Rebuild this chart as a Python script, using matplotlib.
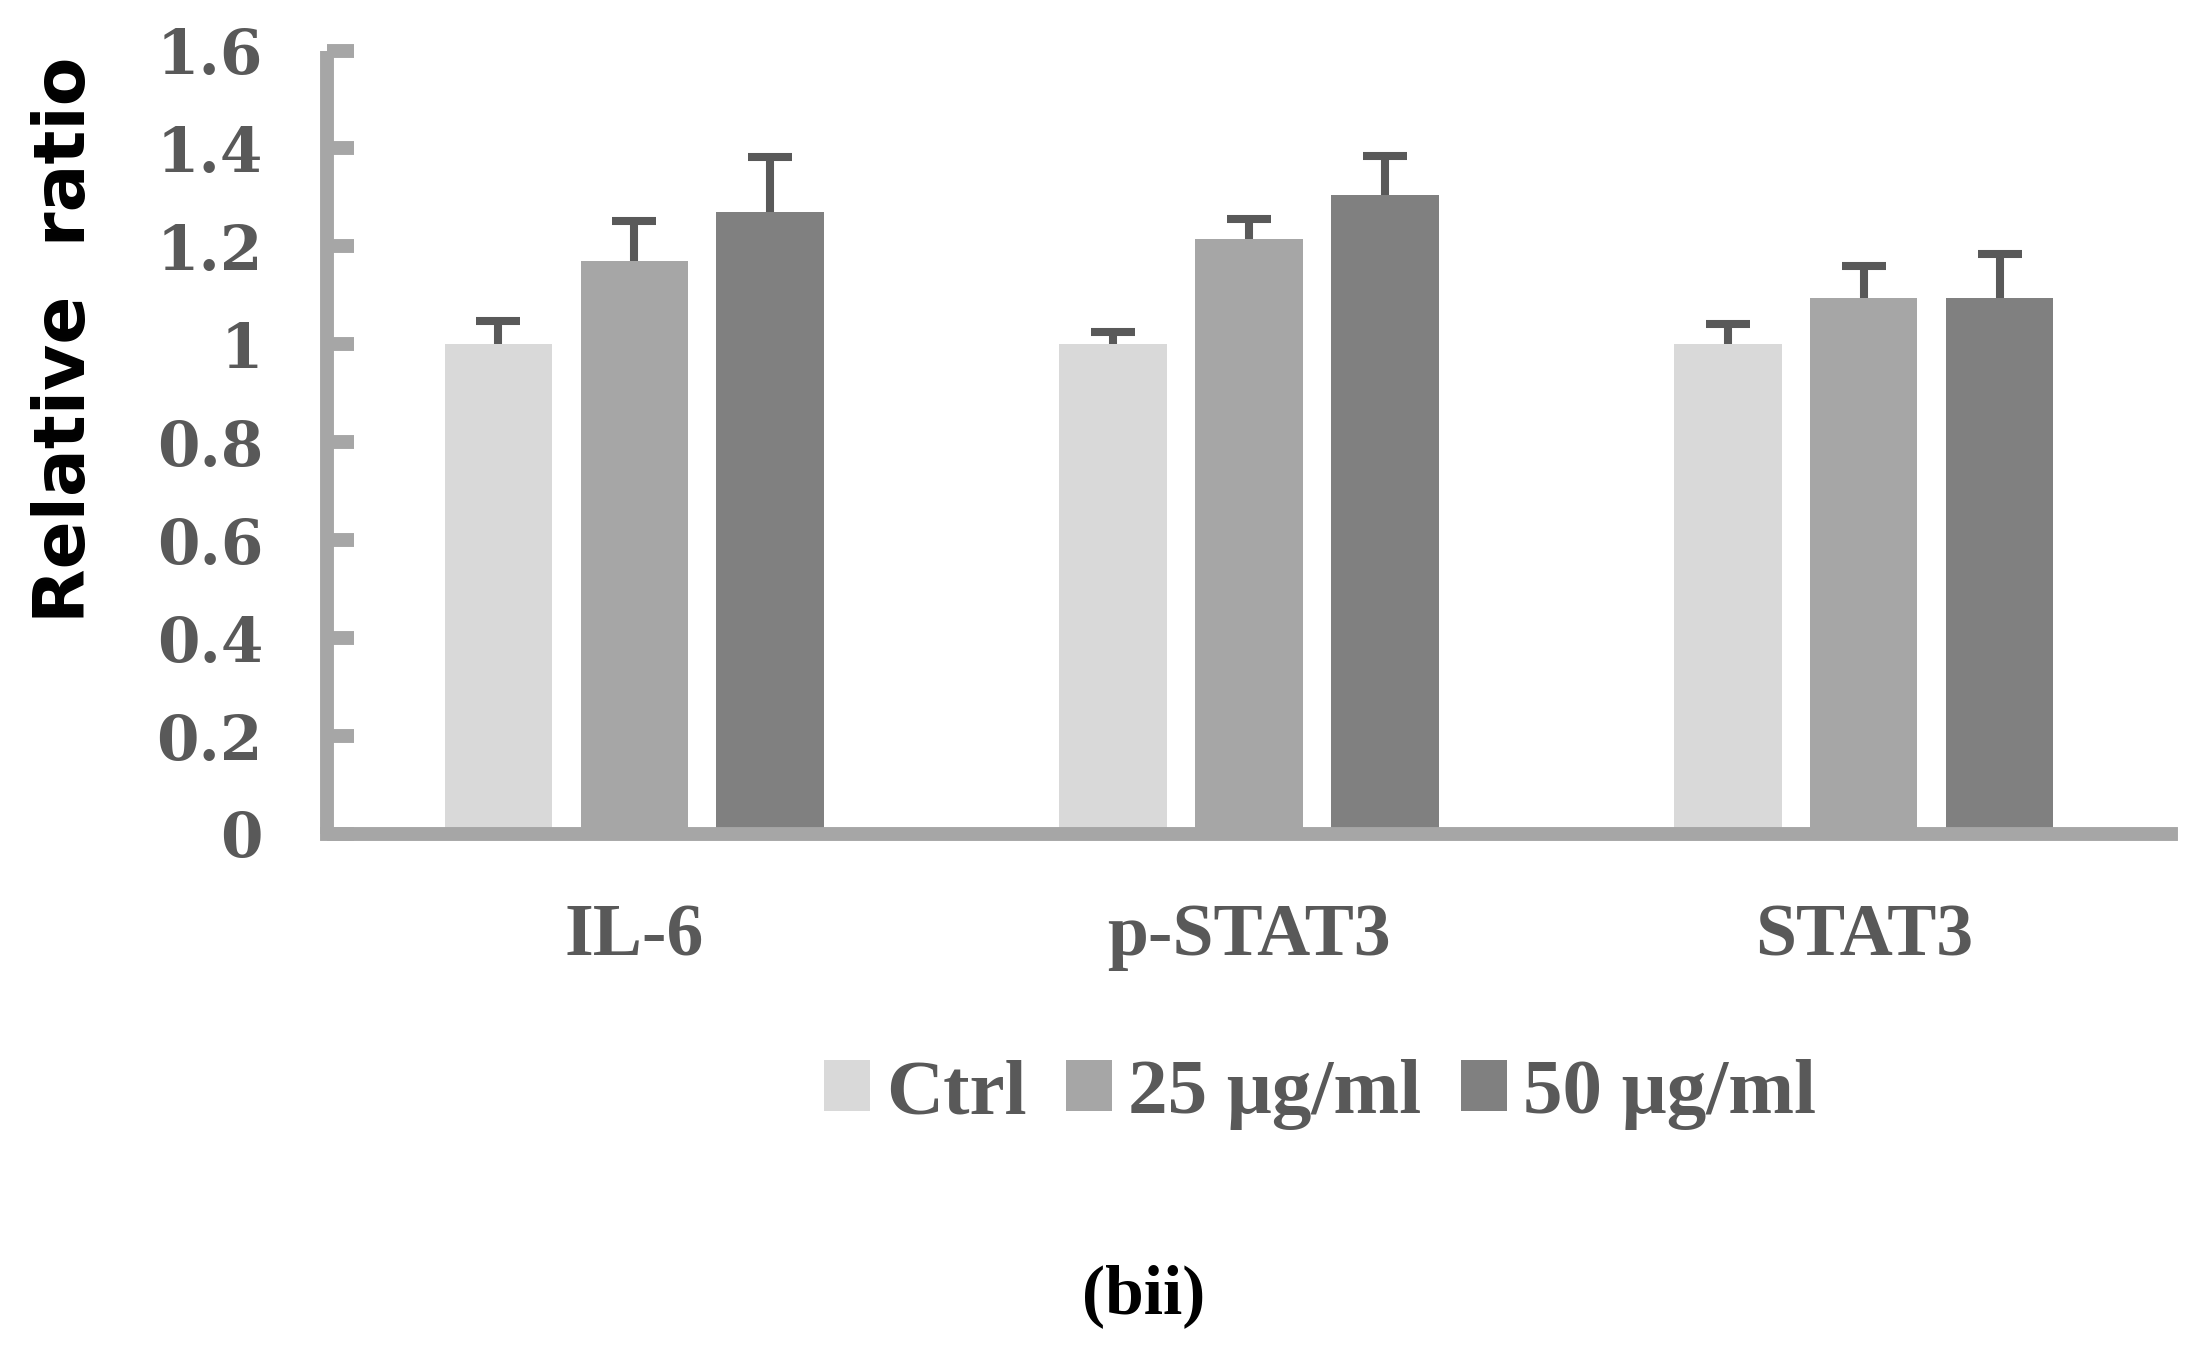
import matplotlib
matplotlib.use("Agg")
import matplotlib.pyplot as plt
import numpy as np

categories = ["IL-6", "p-STAT3", "STAT3"]
series_names = ["Ctrl", "25 μg/ml", "50 μg/ml"]
ctrl_vals = [1.00, 1.00, 1.00]
d25_vals = [1.17, 1.215, 1.095]
d50_vals = [1.27, 1.305, 1.095]
ctrl_err = [0.048, 0.025, 0.041]
d25_err = [0.082, 0.041, 0.064]
d50_err = [0.113, 0.080, 0.089]
yticks = [0, 0.2, 0.4, 0.6, 0.8, 1, 1.2, 1.4, 1.6]
ytick_labels = ["0", "0.2", "0.4", "0.6", "0.8", "1", "1.2", "1.4", "1.6"]

colors = ["#D9D9D9", "#A6A6A6", "#808080"]
axis_col = "#A6A6A6"
text_col = "#595959"
err_col = "#595959"

fig = plt.figure(figsize=(21.94, 13.54), dpi=100)
ax = fig.add_axes([327/2194, 1-834/1354, (2171-327)/2194, (834-50.5)/1354])

x = np.arange(len(categories))
w = 0.175
off = 0.221
vals = [ctrl_vals, d25_vals, d50_vals]
errs = [ctrl_err, d25_err, d50_err]
handles = []
for i, (v, e) in enumerate(zip(vals, errs)):
    xs = x + (i - 1) * off
    b = ax.bar(xs, v, width=w, color=colors[i], zorder=2, label=series_names[i])
    handles.append(b)
    eb = ax.errorbar(xs, v, yerr=[np.zeros(len(e)), e], fmt="none", ecolor=err_col,
                     elinewidth=5.8, capsize=15.5, capthick=5.8, zorder=3)
    for cl in eb[1]:
        if np.allclose(cl.get_ydata(), v):
            cl.set_visible(False)

ax.set_xlim(-0.5, 2.5)
ax.set_ylim(0, 1.6)
for s in ["top", "right"]:
    ax.spines[s].set_visible(False)
for s in ["left", "bottom"]:
    ax.spines[s].set_color(axis_col)
    ax.spines[s].set_linewidth(10)
    ax.spines[s].set_zorder(4)
ax.spines["left"].set_capstyle("butt")

ax.set_yticks(yticks)
ax.set_yticklabels(ytick_labels)
ax.tick_params(axis="y", direction="in", length=19.5, width=10, color=axis_col,
               pad=46, labelsize=44, labelcolor=text_col)
for t in ax.get_yticklabels():
    t.set_fontfamily("DejaVu Serif")
    t.set_fontweight("bold")

ax.set_xticks(x)
ax.set_xticklabels(categories)
ax.tick_params(axis="x", length=0, pad=50, labelsize=53, labelcolor=text_col)
for t in ax.get_xticklabels():
    t.set_fontfamily("Liberation Serif")
    t.set_fontweight("bold")

fig.text(66/2194, 1-340/1354, "Relative  ratio", rotation=90, ha="center", va="center",
         fontsize=51, fontweight="bold", family="DejaVu Sans", color="black")

leg = fig.legend(handles=handles, labels=series_names, loc="center",
                 bbox_to_anchor=(1320/2194, 1-1095/1354), ncol=3, frameon=False,
                 prop={"family": "Liberation Serif", "weight": "bold", "size": 57},
                 handlelength=0.58, handleheight=0.6, handletextpad=0.2,
                 columnspacing=0.5, borderpad=0, borderaxespad=0)
for t in leg.get_texts():
    t.set_color(text_col)

fig.text(1144/2194, 1-1313/1354, "(bii)", ha="center", va="baseline",
         fontsize=50, fontweight="bold", family="Liberation Serif", color="black")

fig.savefig("out.png", dpi=100)
